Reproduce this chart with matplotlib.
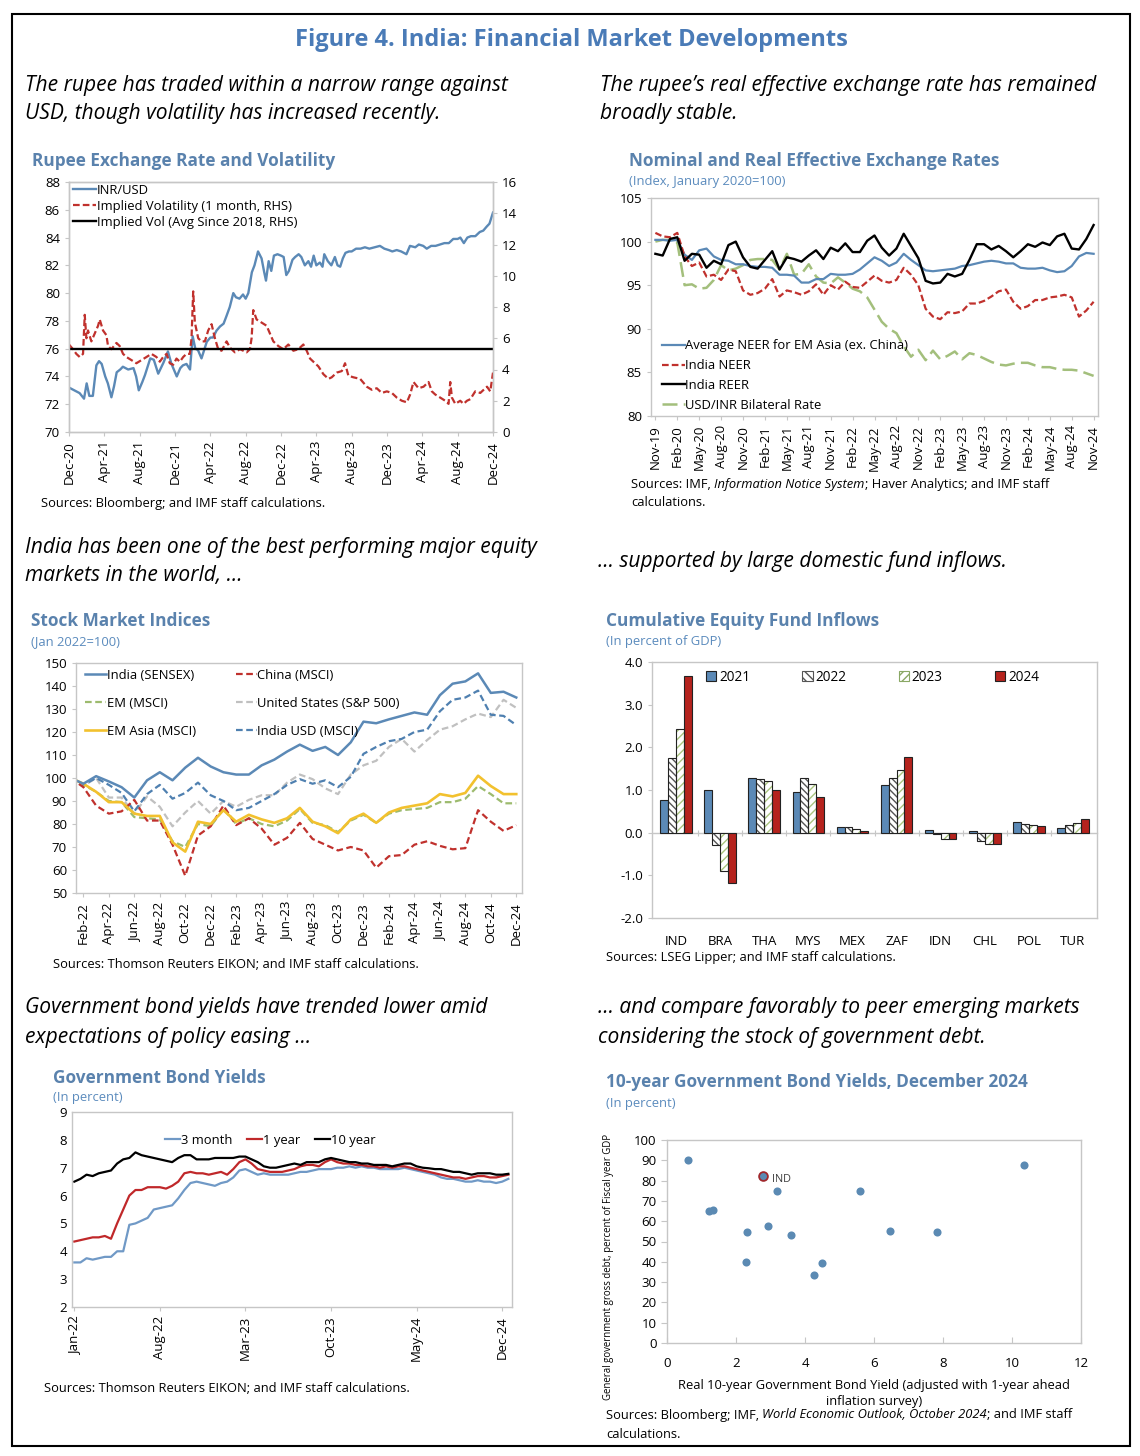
import matplotlib
matplotlib.use('Agg')
import matplotlib.pyplot as plt
import numpy as np
from matplotlib.lines import Line2D
from matplotlib.patches import Patch, Rectangle

# ---------------- data ----------------
# Panel 1: Rupee exchange rate (months since Dec-20) and implied volatility
fx_ticklabels = ['Dec-20', 'Apr-21', 'Aug-21', 'Dec-21', 'Apr-22', 'Aug-22', 'Dec-22',
                 'Apr-23', 'Aug-23', 'Dec-23', 'Apr-24', 'Aug-24', 'Dec-24']
fx_t = [0, 0.6, 1.2, 1.7, 2.0, 2.3, 2.7, 3.1, 3.4, 3.7, 4.1, 4.4, 4.8, 5.1, 5.4, 5.8, 6.1, 6.7,
        7.3, 7.6, 7.9, 8.3, 8.6, 9.2, 9.6, 10.1, 10.7, 11.2, 11.6, 12.2, 12.6, 12.9, 13.3, 13.7,
        14.0, 14.3, 14.6, 15.0, 15.6, 16.0, 16.3, 16.7, 17.1, 17.5, 17.8, 18.2, 18.6, 18.9, 19.3,
        19.7, 20.0, 20.3, 20.7, 21.0, 21.4, 21.8, 22.1, 22.3, 22.6, 22.9, 23.2, 23.6, 24.0, 24.3,
        24.6, 24.9, 25.3, 25.6, 26.0, 26.3, 26.7, 27.1, 27.4, 27.7, 28.0, 28.4, 28.7, 28.9, 29.3,
        29.7, 30.1, 30.4, 30.7, 31.0, 31.3, 31.7, 32.0, 32.5, 33.0, 33.5, 34.0, 34.6, 35.2, 35.7,
        36.2, 36.6, 37.1, 37.6, 38.2, 38.6, 39.2, 39.6, 40.1, 40.5, 41.0, 41.5, 42.0, 42.5, 43.0,
        43.5, 44.0, 44.3, 44.7, 45.1, 45.5, 46.0, 46.5, 46.9, 47.3, 47.6, 48.0]
inr_usd = [73.2, 73.0, 72.8, 72.4, 73.5, 72.6, 72.6, 74.8, 75.1, 74.9, 74.0, 73.5, 72.5, 73.3, 74.3,
           74.5, 74.7, 74.5, 74.6, 74.0, 73.0, 73.6, 74.1, 75.3, 75.2, 74.2, 75.0, 75.8, 74.9, 74.0,
           74.6, 74.8, 74.9, 74.5, 76.9, 76.0, 75.9, 75.3, 76.5, 76.8, 76.8, 77.3, 77.6, 77.8, 78.3,
           79.0, 80.0, 79.7, 79.6, 79.9, 79.6, 80.0, 81.5, 82.0, 83.0, 82.5, 81.5, 80.9, 82.3, 81.6,
           82.7, 82.8, 82.7, 82.6, 81.3, 81.6, 82.4, 82.6, 82.8, 82.6, 82.0, 82.3, 81.9, 82.7, 82.0,
           82.2, 81.9, 82.8, 82.3, 82.0, 82.6, 82.0, 81.9, 82.5, 82.9, 83.0, 83.0, 83.2, 83.2, 83.3,
           83.2, 83.3, 83.4, 83.2, 83.1, 83.0, 83.1, 83.0, 82.8, 83.4, 83.3, 83.5, 83.4, 83.2, 83.4,
           83.4, 83.5, 83.6, 83.6, 83.9, 83.9, 84.0, 83.6, 84.0, 84.1, 84.1, 84.4, 84.5, 84.8, 85.0,
           85.8]
vol_t = [0.0, 0.45, 0.83, 1.21, 1.59, 1.78, 1.97, 2.15, 2.53, 2.91, 3.29, 3.48, 3.85, 4.23, 4.42,
         4.80, 5.37, 5.74, 6.12, 6.50, 7.07, 7.63, 8.20, 8.77, 9.33, 9.90, 10.28, 10.66, 11.04,
         11.41, 11.79, 12.17, 12.55, 12.93, 13.30, 13.68, 13.87, 14.06, 14.25, 14.63, 15.00, 15.38,
         15.76, 16.14, 16.52, 16.89, 17.27, 17.84, 18.22, 18.78, 19.35, 20.11, 20.48, 20.67, 20.86,
         21.24, 21.81, 22.37, 22.75, 23.13, 23.70, 24.26, 24.83, 25.40, 25.96, 26.53, 26.91, 27.29,
         27.66, 28.23, 28.80, 29.37, 29.74, 30.31, 30.88, 31.25, 31.63, 32.20, 32.96, 33.71, 34.28,
         34.84, 35.41, 35.98, 36.55, 37.11, 37.68, 38.25, 38.62, 39.00, 39.57, 40.14, 40.70, 41.08,
         41.46, 42.03, 42.59, 42.97, 43.16, 43.35, 43.73, 44.29, 44.67, 45.05, 45.43, 45.99, 46.56,
         47.13, 47.32, 47.69, 48.0]
implied_vol = [5.6, 5.3, 5.0, 4.8, 5.0, 7.5, 6.0, 6.5, 5.8, 6.3, 6.8, 7.2, 6.5, 6.2, 5.5, 5.3, 5.7,
               5.5, 5.0, 4.8, 4.6, 4.4, 4.6, 4.8, 5.0, 4.8, 4.5, 4.8, 5.0, 4.4, 4.3, 4.7, 4.5, 4.8,
               5.0, 5.0, 6.0, 9.0, 7.0, 6.0, 5.8, 5.8, 6.5, 6.9, 6.0, 5.3, 5.2, 5.8, 5.4, 5.1, 5.3,
               5.1, 5.3, 6.0, 7.8, 7.2, 7.0, 6.8, 6.3, 5.8, 5.5, 5.3, 5.6, 5.2, 5.3, 5.6, 5.2, 4.7,
               4.5, 4.2, 3.7, 3.4, 3.5, 3.8, 3.9, 4.4, 3.6, 3.5, 3.4, 2.9, 2.7, 2.8, 2.5, 2.6, 2.5,
               2.2, 2.0, 1.9, 2.4, 3.2, 2.8, 2.9, 3.2, 2.6, 2.4, 2.2, 2.0, 1.8, 3.2, 2.2, 1.8, 2.0,
               1.8, 2.0, 2.1, 2.6, 2.5, 2.8, 2.9, 2.6, 3.8]
vol_avg_since_2018 = 5.3

# Panel 2: NEER / REER (monthly, Nov-19 .. Nov-24)
eer_ticklabels = ['Nov-19', 'Feb-20', 'May-20', 'Aug-20', 'Nov-20', 'Feb-21', 'May-21', 'Aug-21',
                  'Nov-21', 'Feb-22', 'May-22', 'Aug-22', 'Nov-22', 'Feb-23', 'May-23', 'Aug-23',
                  'Nov-23', 'Feb-24', 'May-24', 'Aug-24', 'Nov-24']
avg_neer_em_asia = [100.2, 100.2, 100.1, 100.2, 98.5, 97.9, 99.0, 99.2, 98.3, 97.9,
                    97.8, 97.4, 97.4, 97.2, 97.1, 97.1, 97.0, 96.2, 96.2, 96.1,
                    95.3, 95.3, 95.7, 95.7, 96.3, 96.2, 96.2, 96.3, 96.8, 97.5,
                    98.2, 97.8, 97.2, 97.6, 98.6, 97.9, 97.3, 96.7, 96.6, 96.7,
                    96.8, 96.9, 97.2, 97.3, 97.5, 97.7, 97.8, 97.7, 97.5, 97.5,
                    97.0, 96.9, 96.9, 97.0, 96.7, 96.5, 96.6, 97.2, 98.3, 98.7, 98.6]
india_neer = [101.0, 100.6, 100.5, 101.0, 98.3, 97.2, 97.6, 96.0, 96.2, 95.6,
              96.8, 96.6, 94.4, 93.9, 94.1, 94.6, 95.7, 93.7, 94.4, 94.2,
              93.9, 94.3, 95.1, 93.9, 95.0, 94.5, 95.4, 94.8, 94.7, 95.4,
              96.1, 95.5, 95.3, 95.6, 97.0, 96.2, 95.0, 92.3, 91.4, 91.1,
              91.9, 91.8, 92.0, 92.9, 92.9, 93.2, 93.7, 94.3, 94.5, 93.1,
              92.3, 92.6, 93.3, 93.3, 93.6, 93.7, 93.9, 93.6, 91.4, 92.1, 93.1]
india_reer = [98.6, 98.4, 100.3, 100.5, 97.8, 98.6, 98.5, 97.0, 97.8, 97.4,
              99.6, 100.0, 98.2, 97.1, 96.9, 97.9, 98.9, 96.8, 98.2, 98.0,
              97.7, 98.4, 99.0, 98.0, 99.3, 98.9, 99.8, 98.8, 98.8, 100.1,
              100.7, 99.3, 98.4, 99.2, 100.9, 99.5, 98.1, 95.5, 95.2, 95.3,
              96.3, 96.0, 96.3, 97.9, 99.7, 99.7, 99.1, 99.5, 98.9, 98.2,
              98.9, 99.7, 99.4, 99.9, 99.6, 100.6, 100.9, 99.2, 99.1, 100.3, 101.9]
usd_inr_bilateral = [100.0, 100.2, 100.2, 99.9, 95.0, 95.1, 94.6, 94.7, 95.6, 97.3,
                     96.7, 96.9, 97.3, 97.9, 98.0, 98.0, 97.9, 96.8, 98.6, 96.2,
                     96.3, 97.4, 96.0, 95.3, 95.2, 95.9, 95.3, 94.6, 94.3, 93.6,
                     92.2, 90.8, 90.0, 89.5, 88.0, 86.8, 87.6, 86.4, 87.5, 86.5,
                     86.9, 87.4, 86.5, 87.2, 87.0, 86.6, 86.2, 85.9, 85.8, 86.0,
                     86.1, 86.1, 85.8, 85.6, 85.6, 85.4, 85.3, 85.3, 85.2, 84.9, 84.6]

# Panel 3: stock market indices (monthly, Jan-22 .. Dec-24)
stock_ticklabels = ['Feb-22', 'Apr-22', 'Jun-22', 'Aug-22', 'Oct-22', 'Dec-22', 'Feb-23', 'Apr-23',
                    'Jun-23', 'Aug-23', 'Oct-23', 'Dec-23', 'Feb-24', 'Apr-24', 'Jun-24', 'Aug-24',
                    'Oct-24', 'Dec-24']
sensex = [100, 97.5, 100.8, 98.5, 96, 91.5, 99, 102.5, 99, 104.5, 108.8, 105, 102.5, 101.5, 101.5,
          105.5, 108, 111.5, 114.5, 111.8, 113.5, 110, 115.5, 124.5, 123.8, 125.5, 127, 128.5,
          127.5, 136, 141, 142, 145.5, 137, 137.5, 135]
china_msci = [100, 96, 88, 84.5, 85.5, 90.5, 81.5, 81.5, 71, 57.5, 75, 79, 88, 79.5, 82.5, 78, 71,
              74, 80.5, 73.5, 71, 68.5, 70, 68.5, 61, 66, 66.5, 71, 72.5, 70.5, 69, 69.5, 86, 81,
              77, 79.5]
em_msci = [100, 97, 94, 90, 89.5, 83, 82.5, 82, 72.5, 70, 80, 79, 86.5, 80, 82.5, 80, 79, 81.5,
           86.5, 80.5, 79.5, 76.5, 81.5, 84, 80.5, 84.5, 86, 86.5, 87, 89.5, 89.5, 91, 96.5, 93,
           89, 89]
us_sp500 = [100, 96.5, 100, 91.5, 91.5, 84.5, 92, 87.5, 79, 85, 90, 84.5, 90, 87.5, 90.5, 92.5,
            92.5, 98, 101.5, 99.5, 95.5, 93, 101.5, 105.5, 107.5, 113.5, 117, 111.5, 116.5, 121,
            122.5, 125.5, 128, 126.5, 134, 130.5]
em_asia_msci = [100, 97.5, 94, 89.5, 89.5, 84.5, 83.5, 83.5, 72, 68, 81, 80, 86, 81, 84, 82, 80.5,
                82.5, 87, 81, 79, 76, 82, 84.5, 80.5, 85, 87, 88, 89, 93, 92, 93.5, 101, 96.5, 93,
                93]
india_usd_msci = [100, 97, 100, 97, 93.5, 85.5, 93, 97, 91, 93.5, 98, 92.5, 90, 86, 87, 90, 93, 97,
                  99.5, 97.5, 99, 96, 100.5, 110.5, 113.5, 116, 117, 120, 121, 129, 134, 135, 138,
                  127.5, 127, 123]

# Panel 4: cumulative equity fund inflows (percent of GDP)
fund_countries = ['IND', 'BRA', 'THA', 'MYS', 'MEX', 'ZAF', 'IDN', 'CHL', 'POL', 'TUR']
flows_2021 = [0.77, 0.99, 1.29, 0.95, 0.14, 1.11, 0.06, 0.03, 0.26, 0.12]
flows_2022 = [1.74, -0.29, 1.26, 1.27, 0.14, 1.27, -0.04, -0.19, 0.20, 0.17]
flows_2023 = [2.43, -0.89, 1.20, 1.13, 0.08, 1.46, -0.14, -0.26, 0.17, 0.23]
flows_2024 = [3.67, -1.18, 1.00, 0.83, 0.04, 1.78, -0.16, -0.26, 0.15, 0.33]

# Panel 5: government bond yields (semi-monthly, Jan-22 .. Dec-24)
bond_ticklabels = ['Jan-22', 'Aug-22', 'Mar-23', 'Oct-23', 'May-24', 'Dec-24']
yield_3m = [3.60, 3.60, 3.75, 3.70, 3.75, 3.80, 3.80, 4.00, 4.00, 4.95,
            5.00, 5.10, 5.20, 5.50, 5.55, 5.60, 5.65, 5.90, 6.20, 6.45,
            6.50, 6.45, 6.40, 6.35, 6.45, 6.50, 6.65, 6.90, 6.95, 6.85,
            6.75, 6.80, 6.75, 6.75, 6.75, 6.75, 6.80, 6.85, 6.85, 6.90,
            6.95, 6.95, 6.95, 7.00, 7.00, 7.05, 7.00, 7.05, 7.00, 7.00,
            6.95, 6.95, 6.95, 6.95, 7.00, 6.95, 6.90, 6.85, 6.80, 6.75,
            6.65, 6.60, 6.60, 6.55, 6.50, 6.50, 6.55, 6.50, 6.50, 6.45,
            6.50, 6.60]
yield_1y = [4.35, 4.40, 4.45, 4.50, 4.50, 4.55, 4.45, 5.00, 5.50, 6.00,
            6.20, 6.20, 6.30, 6.30, 6.30, 6.25, 6.35, 6.50, 6.80, 6.85,
            6.80, 6.80, 6.75, 6.80, 6.85, 6.75, 6.95, 7.20, 7.30, 7.15,
            6.95, 6.90, 6.85, 6.85, 6.85, 6.90, 6.95, 7.05, 7.10, 7.10,
            7.05, 7.20, 7.30, 7.20, 7.15, 7.15, 7.10, 7.10, 7.05, 7.05,
            7.00, 7.05, 7.00, 7.05, 7.05, 7.00, 6.95, 6.90, 6.85, 6.80,
            6.75, 6.70, 6.65, 6.65, 6.60, 6.65, 6.70, 6.70, 6.65, 6.65,
            6.70, 6.75]
yield_10y = [6.50, 6.60, 6.75, 6.70, 6.80, 6.85, 6.90, 7.15, 7.30, 7.35,
             7.55, 7.45, 7.40, 7.35, 7.30, 7.25, 7.20, 7.35, 7.45, 7.45,
             7.30, 7.30, 7.30, 7.35, 7.35, 7.35, 7.35, 7.40, 7.40, 7.30,
             7.20, 7.05, 7.00, 7.00, 7.05, 7.10, 7.15, 7.10, 7.20, 7.20,
             7.20, 7.30, 7.35, 7.30, 7.25, 7.20, 7.20, 7.15, 7.15, 7.10,
             7.10, 7.10, 7.05, 7.10, 7.15, 7.15, 7.05, 7.00, 6.98, 6.95,
             6.95, 6.90, 6.85, 6.85, 6.80, 6.75, 6.80, 6.80, 6.80, 6.75,
             6.75, 6.78]

# Panel 6: real 10-year yield vs. debt
real_yield = [0.6, 1.22, 1.32, 2.32, 2.30, 2.93, 3.20, 3.58, 4.25, 4.50, 5.60, 6.47, 7.83, 10.34]
gross_debt = [90.0, 65.2, 65.7, 54.6, 40.0, 57.7, 75.0, 53.1, 33.3, 39.6, 74.8, 55.4, 54.6, 87.5]
ind_real_yield = 2.77
ind_gross_debt = 82.5

# ---------------- style ----------------
W, H = 1140, 1456
plt.rcParams['font.family'] = ['Open Sans', 'DejaVu Sans']
plt.rcParams['axes.linewidth'] = 1.0

TITLE_C = '#4a7bb7'
PANEL_C = '#5a82ad'
SUB_C = '#5b8bbd'
SPINE_C = '#c6c6c6'
LBLUE = '#5b89b6'
RED = '#c0312d'
GREEN = '#a3bf7c'
YELLOW = '#f2c12e'
LGRAY = '#c0c0c0'
TICK_FS = 9.5
LEG_FS = 9.4

fig = plt.figure(figsize=(W / 100, H / 100), dpi=100)
renderer = fig.canvas.get_renderer()


def rect(x0, y0, x1, y1):
    return [x0 / W, 1 - y1 / H, (x1 - x0) / W, (y1 - y0) / H]


def ftext(x, y, s, **kw):
    kw.setdefault('va', 'center')
    kw.setdefault('ha', 'left')
    return fig.text(x / W, 1 - y / H, s, **kw)


def rich(x, y, parts, size=8.5):
    cx = x
    for s, st in parts:
        t = ftext(cx, y, s, fontsize=size, style=st)
        bb = t.get_window_extent(renderer=renderer)
        cx = bb.x1


def style_axes(ax):
    for sp in ax.spines.values():
        sp.set_color(SPINE_C)
    ax.tick_params(colors=SPINE_C, labelcolor='black', labelsize=TICK_FS, length=3)


# border
fig.add_artist(Rectangle((12 / W, 1 - 1446 / H), 1118 / W, 1432 / H, transform=fig.transFigure,
                         fill=False, lw=1.5, ec='black'))

# headline texts
ftext(571, 40, 'Figure 4. India: Financial Market Developments', ha='center', fontsize=17,
      fontweight='bold', color=TITLE_C)
IT = dict(fontsize=15.1, style='italic')
ftext(25, 86, 'The rupee has traded within a narrow range against', **IT)
ftext(25, 114, 'USD, though volatility has increased recently.', **IT)
ftext(600, 86, 'The rupee\u2019s real effective exchange rate has remained', **IT)
ftext(600, 114, 'broadly stable.', **IT)
ftext(25, 548, 'India has been one of the best performing major equity', **IT)
ftext(25, 576, 'markets in the world, \u2026', **IT)
ftext(598, 561, '\u2026 supported by large domestic fund inflows.', **IT)
ftext(25, 1008, 'Government bond yields have trended lower amid', **IT)
ftext(25, 1037, 'expectations of policy easing \u2026', **IT)
ftext(598, 1008, '\u2026 and compare favorably to peer emerging markets', **IT)
ftext(598, 1037, 'considering the stock of government debt.', **IT)

PT = dict(fontsize=12.4, fontweight='bold', color=PANEL_C)
ST = dict(fontsize=9.4, color=SUB_C)
ftext(32, 161, 'Rupee Exchange Rate and Volatility', **PT)
ftext(629, 161, 'Nominal and Real Effective Exchange Rates', **PT)
ftext(629, 181, '(Index, January 2020=100)', **ST)
ftext(31, 621, 'Stock Market Indices', **PT)
ftext(31, 642, '(Jan 2022=100)', **ST)
ftext(606, 621, 'Cumulative Equity Fund Inflows', **PT)
ftext(606, 642, '(In percent of GDP)', **ST)
ftext(53, 1078, 'Government Bond Yields', **PT)
ftext(53, 1098, '(In percent)', **ST)
ftext(606, 1082, '10-year Government Bond Yields, December 2024', **PT)
ftext(606, 1103, '(In percent)', **ST)

SRC = 9.3
ftext(41, 503, 'Sources: Bloomberg; and IMF staff calculations.', fontsize=SRC)
rich(631, 485, [('Sources: IMF, ', 'normal'), ('Information Notice System', 'italic'),
                ('; Haver Analytics; and IMF staff', 'normal')], SRC)
ftext(631, 503, 'calculations.', fontsize=SRC)
ftext(53, 964, 'Sources: Thomson Reuters EIKON; and IMF staff calculations.', fontsize=SRC)
ftext(606, 958, 'Sources: LSEG Lipper; and IMF staff calculations.', fontsize=SRC)
ftext(44, 1388, 'Sources: Thomson Reuters EIKON; and IMF staff calculations.', fontsize=SRC)
rich(606, 1415, [('Sources: Bloomberg; IMF, ', 'normal'),
                 ('World Economic Outlook, October 2024', 'italic'),
                 ('; and IMF staff', 'normal')], SRC)
ftext(606, 1434, 'calculations.', fontsize=SRC)

# ---------------- Panel 1 ----------------
ax1 = fig.add_axes(rect(69, 182, 493, 432))
style_axes(ax1)
ax1.plot(fx_t, inr_usd, color=LBLUE, lw=1.7)
ax1.set_xlim(0, 48)
ax1.set_ylim(70, 88)
ax1.set_yticks(np.arange(70, 89, 2))
ax1.set_xticks(np.arange(0, 49, 4))
ax1.set_xticklabels(fx_ticklabels, rotation=90)
ax1r = ax1.twinx()
style_axes(ax1r)
ax1r.plot(vol_t, implied_vol, color=RED, lw=1.6, dashes=(3, 1.4))
ax1r.axhline(vol_avg_since_2018, color='black', lw=1.7)
ax1r.set_ylim(0, 16)
ax1r.set_yticks(np.arange(0, 17, 2))
h1 = [Line2D([], [], color=LBLUE, lw=1.7),
      Line2D([], [], color=RED, lw=1.6, dashes=(3, 1.4)),
      Line2D([], [], color='black', lw=1.7)]
ax1r.legend(h1, ['INR/USD', 'Implied Volatility (1 month, RHS)', 'Implied Vol (Avg Since 2018, RHS)'],
            loc='upper left', bbox_to_anchor=(-0.005, 1.02), frameon=False, fontsize=LEG_FS,
            handlelength=1.75, handletextpad=0.05, labelspacing=0.25, borderaxespad=0.1)

# ---------------- Panel 2 ----------------
ax2 = fig.add_axes(rect(651, 198, 1098, 416))
style_axes(ax2)
m2 = np.arange(len(avg_neer_em_asia))
ax2.plot(m2, usd_inr_bilateral, color=GREEN, lw=1.8, dashes=(6, 2.5),
         label='USD/INR Bilateral Rate')
ax2.plot(m2, avg_neer_em_asia, color=LBLUE, lw=1.6, label='Average NEER for EM Asia (ex. China)')
ax2.plot(m2, india_neer, color=RED, lw=1.6, dashes=(3, 1.4), label='India NEER')
ax2.plot(m2, india_reer, color='black', lw=1.7, label='India REER')
ax2.set_xlim(-0.6, 60.6)
ax2.set_ylim(80, 105)
ax2.set_yticks(np.arange(80, 106, 5))
ax2.set_xticks(np.arange(0, 61, 3))
ax2.set_xticklabels(eer_ticklabels, rotation=90)
hh, ll = ax2.get_legend_handles_labels()
order = [1, 2, 3, 0]
ax2.legend([hh[i] for i in order], [ll[i] for i in order], loc='lower left',
           bbox_to_anchor=(0.01, -0.01), frameon=False, fontsize=LEG_FS, handlelength=1.75,
           handletextpad=0.05, labelspacing=0.52, borderaxespad=0.1)

# ---------------- Panel 3 ----------------
ax3 = fig.add_axes(rect(76, 663, 522, 893))
style_axes(ax3)
m3 = np.arange(len(sensex))
ax3.plot(m3, us_sp500, color=LGRAY, lw=1.6, dashes=(3, 1.6))
ax3.plot(m3, em_msci, color='#9dbb6e', lw=1.6, dashes=(3, 1.6))
ax3.plot(m3, india_usd_msci, color='#4f80b0', lw=1.6, dashes=(3, 1.6))
ax3.plot(m3, china_msci, color=RED, lw=1.6, dashes=(3, 1.6))
ax3.plot(m3, em_asia_msci, color=YELLOW, lw=1.9)
ax3.plot(m3, sensex, color=LBLUE, lw=1.8)
ax3.set_xlim(0.42, 35.45)
ax3.set_ylim(50, 150)
ax3.set_yticks(np.arange(50, 151, 10))
ax3.set_xticks(np.arange(1, 36, 2))
ax3.set_xticklabels(stock_ticklabels, rotation=90)
h3 = [Line2D([], [], color=LBLUE, lw=1.8),
      Line2D([], [], color='#9dbb6e', lw=1.6, dashes=(3, 1.6)),
      Line2D([], [], color=YELLOW, lw=1.9),
      Line2D([], [], color=RED, lw=1.6, dashes=(3, 1.6)),
      Line2D([], [], color=LGRAY, lw=1.6, dashes=(3, 1.6)),
      Line2D([], [], color='#4f80b0', lw=1.6, dashes=(3, 1.6))]
l3 = ['India (SENSEX)', 'EM (MSCI)', 'EM Asia (MSCI)', 'China (MSCI)', 'United States (S&P 500)',
      'India USD (MSCI)']
ax3.legend(h3, l3, ncol=2, loc='upper left', bbox_to_anchor=(0.005, 1.005), frameon=False,
           fontsize=LEG_FS, handlelength=1.6, handletextpad=0.05, labelspacing=1.15,
           columnspacing=3.05, borderaxespad=0.15)

# ---------------- Panel 4 ----------------
ax4 = fig.add_axes(rect(652, 662, 1097, 918))
style_axes(ax4)
xc = np.arange(len(fund_countries))
bw = 0.18
offs = [-1.5, -0.5, 0.5, 1.5]
ax4.bar(xc + offs[0] * bw, flows_2021, bw, color=LBLUE, edgecolor='#222222', lw=0.8, zorder=3)
ax4.bar(xc + offs[1] * bw, flows_2022, bw, color='white', edgecolor='#555555', hatch='\\\\\\\\\\',
        lw=0, zorder=3)
ax4.bar(xc + offs[1] * bw, flows_2022, bw, color='none', edgecolor='#222222', lw=0.8, zorder=4)
ax4.bar(xc + offs[2] * bw, flows_2023, bw, color='white', edgecolor='#a9c47f', hatch='////',
        lw=0, zorder=3)
ax4.bar(xc + offs[2] * bw, flows_2023, bw, color='none', edgecolor='#222222', lw=0.8, zorder=4)
ax4.bar(xc + offs[3] * bw, flows_2024, bw, color='#b5231d', edgecolor='#222222', lw=0.8, zorder=3)
ax4.set_xlim(-0.55, len(fund_countries) - 0.45)
ax4.set_ylim(-2, 4)
ax4.set_yticks(np.arange(-2, 4.1, 1))
ax4.set_yticklabels(['%.1f' % v for v in np.arange(-2, 4.1, 1)])
ax4.set_xticks(xc)
ax4.set_xticklabels(fund_countries)
ax4.tick_params(axis='x', length=0, pad=12)
ax4.tick_params(axis='y', length=3)
zero_ax = ax4.secondary_xaxis(0, transform=ax4.transData)
zero_ax.set_xticks(xc[:-1] + 0.5)
zero_ax.set_xticklabels([])
zero_ax.tick_params(length=5, direction='inout', color=SPINE_C)
for sp in zero_ax.spines.values():
    sp.set_color(SPINE_C)
h4 = [Patch(facecolor=LBLUE, edgecolor='#222222', lw=0.8),
      Patch(facecolor='white', edgecolor='#555555', hatch='\\\\\\\\', lw=0.8),
      Patch(facecolor='white', edgecolor='#8aa865', hatch='////', lw=0.8),
      Patch(facecolor='#b5231d', edgecolor='#222222', lw=0.8)]
ax4.legend(h4, ['2021', '2022', '2023', '2024'], ncol=4, loc='upper left',
           bbox_to_anchor=(0.103, 1.0), frameon=False, fontsize=9.8, handlelength=0.75,
           handleheight=0.75, handletextpad=0.2, columnspacing=3.85, borderaxespad=0.2)

# ---------------- Panel 5 ----------------
ax5 = fig.add_axes(rect(72, 1112, 512, 1307))
style_axes(ax5)
t5 = np.arange(len(yield_3m)) * 0.5
ax5.plot(t5, yield_3m, color='#7099c6', lw=1.6, label='3 month')
ax5.plot(t5, yield_1y, color='#c0282a', lw=1.6, label='1 year')
ax5.plot(t5, yield_10y, color='black', lw=1.6, label='10 year')
ax5.set_xlim(-0.19, 35.8)
ax5.set_ylim(2, 9)
ax5.set_yticks(np.arange(2, 10, 1))
ax5.set_xticks(np.arange(0, 36, 7))
ax5.set_xticklabels(bond_ticklabels, rotation=90)
ax5.tick_params(axis='y', length=0)
ax5.legend(loc='center', bbox_to_anchor=(0.45, 0.855), ncol=3, frameon=False, fontsize=LEG_FS,
           handlelength=1.2, handletextpad=0.05, columnspacing=1.1)

# ---------------- Panel 6 ----------------
ax6 = fig.add_axes(rect(667, 1140, 1081, 1343))
style_axes(ax6)
ax6.scatter(real_yield, gross_debt, s=34, color='#5b8ab3', zorder=3, linewidths=0)
ax6.scatter([ind_real_yield], [ind_gross_debt], s=40, color='#5b8ab3', edgecolors='#a0282d',
            linewidths=1.3, zorder=4)
ax6.annotate('IND', (ind_real_yield, ind_gross_debt), xytext=(7, -3), textcoords='offset points',
             fontsize=7.8, color='#404040', va='center')
ax6.set_xlim(0, 12)
ax6.set_ylim(0, 100)
ax6.set_xticks(np.arange(0, 13, 2))
ax6.set_yticks(np.arange(0, 101, 10))
ax6.tick_params(axis='x', direction='in', length=4, pad=10)
ax6.tick_params(axis='y', direction='out', length=4)
ftext(874, 1394, 'Real 10-year Government Bond Yield (adjusted with 1-year ahead\ninflation survey)',
      ha='center', fontsize=9.3, linespacing=1.3)
ftext(609, 1267, 'General government gross debt, percent of Fiscal year GDP', ha='center',
      rotation=90, fontsize=6.9)

fig.savefig('out.png', dpi=100)
